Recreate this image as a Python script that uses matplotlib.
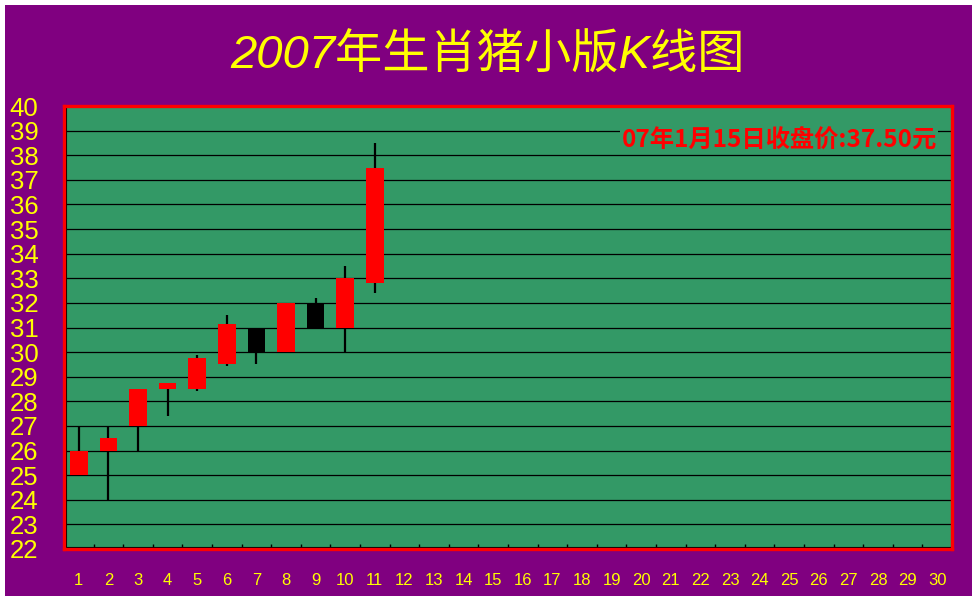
import matplotlib
matplotlib.use("Agg")
import matplotlib.pyplot as plt
from matplotlib.patches import Rectangle

# ---- data ----
days = [1, 2, 3, 4, 5, 6, 7, 8, 9, 10, 11]
opens = [25, 26, 27, 28.5, 28.5, 29.5, 31, 30, 32, 31, 32.8]
closes = [26, 26.5, 28.5, 28.75, 29.75, 31.15, 30, 32, 31, 33, 37.5]
highs = [27, 27, 28.5, 28.75, 29.9, 31.5, 31, 32, 32.2, 33.5, 38.5]
lows = [25, 24, 26, 27.4, 28.4, 29.45, 29.5, 30, 31, 30, 32.4]
x_labels = [str(i) for i in range(1, 31)]
y_ticks = list(range(22, 41))
title = "2007年生肖猪小版K线图"
note = "07年1月15日收盘价:37.50元"

PURPLE = "#800080"
GREEN = "#339966"
YELLOW = "#FFFF00"
RED = "#FF0000"

fig = plt.figure(figsize=(9.77, 6.0), dpi=100, facecolor="white")
# purple panel with thin white margin
fig.patches.append(Rectangle((5 / 977, 4 / 600), 967 / 977, 591 / 600,
                             transform=fig.transFigure, facecolor=PURPLE,
                             edgecolor="none", zorder=-10))

ax = fig.add_axes([64 / 977, 51 / 600, 888 / 977, 443 / 600])
ax.set_zorder(1)
ax.set_facecolor(GREEN)
ax.set_xlim(0.5, 30.5)
ax.set_ylim(22, 40)

# grid
for v in y_ticks[1:-1]:
    ax.axhline(v, color="black", lw=0.9, zorder=1)

# candles
for d, o, c, h, l in zip(days, opens, closes, highs, lows):
    col = RED if c >= o else "black"
    ax.vlines(d, l, h, color="black", lw=1.6, zorder=2)
    ax.bar(d, abs(c - o), bottom=min(o, c), width=0.6, color=col,
           edgecolor="none", zorder=3)

# ticks
ax.set_yticks(y_ticks)
ax.set_yticklabels([str(v) for v in y_ticks], family="Liberation Sans",
                   fontsize=18.5, color=YELLOW)
ax.tick_params(axis="y", length=0, pad=18.5)
ax.set_xticks(range(1, 31))
ax.set_xticklabels(x_labels, family="Liberation Sans", fontsize=12,
                   color=YELLOW)
ax.tick_params(axis="x", which="major", length=0, pad=17)
ax.set_xticks([i + 0.5 for i in range(1, 30)], minor=True)
ax.tick_params(axis="x", which="minor", direction="in", length=3.5,
               width=1, color="black")

for s in ax.spines.values():
    s.set_color(RED)
    s.set_linewidth(2.4)
    s.set_zorder(6)
# thin black inner edge on left and bottom
ax.plot([2.2 / 888, 2.2 / 888, 1], [1, 2.2 / 443, 2.2 / 443],
        transform=ax.transAxes, color="black", lw=0.8, zorder=5,
        clip_on=False)

ax.text(0.983, 0.922, note, transform=ax.transAxes, ha="right", va="center",
        color=RED, fontsize=17.5, fontweight="bold",
        family=["Noto Sans CJK SC", "DejaVu Sans"],
        bbox=dict(facecolor=GREEN, edgecolor="none", pad=1), zorder=6)

fig.text(488 / 977, 1 - 57 / 600, title, ha="center", va="center",
         color=YELLOW, fontsize=34, style="italic",
         family=["Liberation Sans", "Noto Sans CJK SC"])

fig.savefig("out.png", dpi=100, facecolor="white")
